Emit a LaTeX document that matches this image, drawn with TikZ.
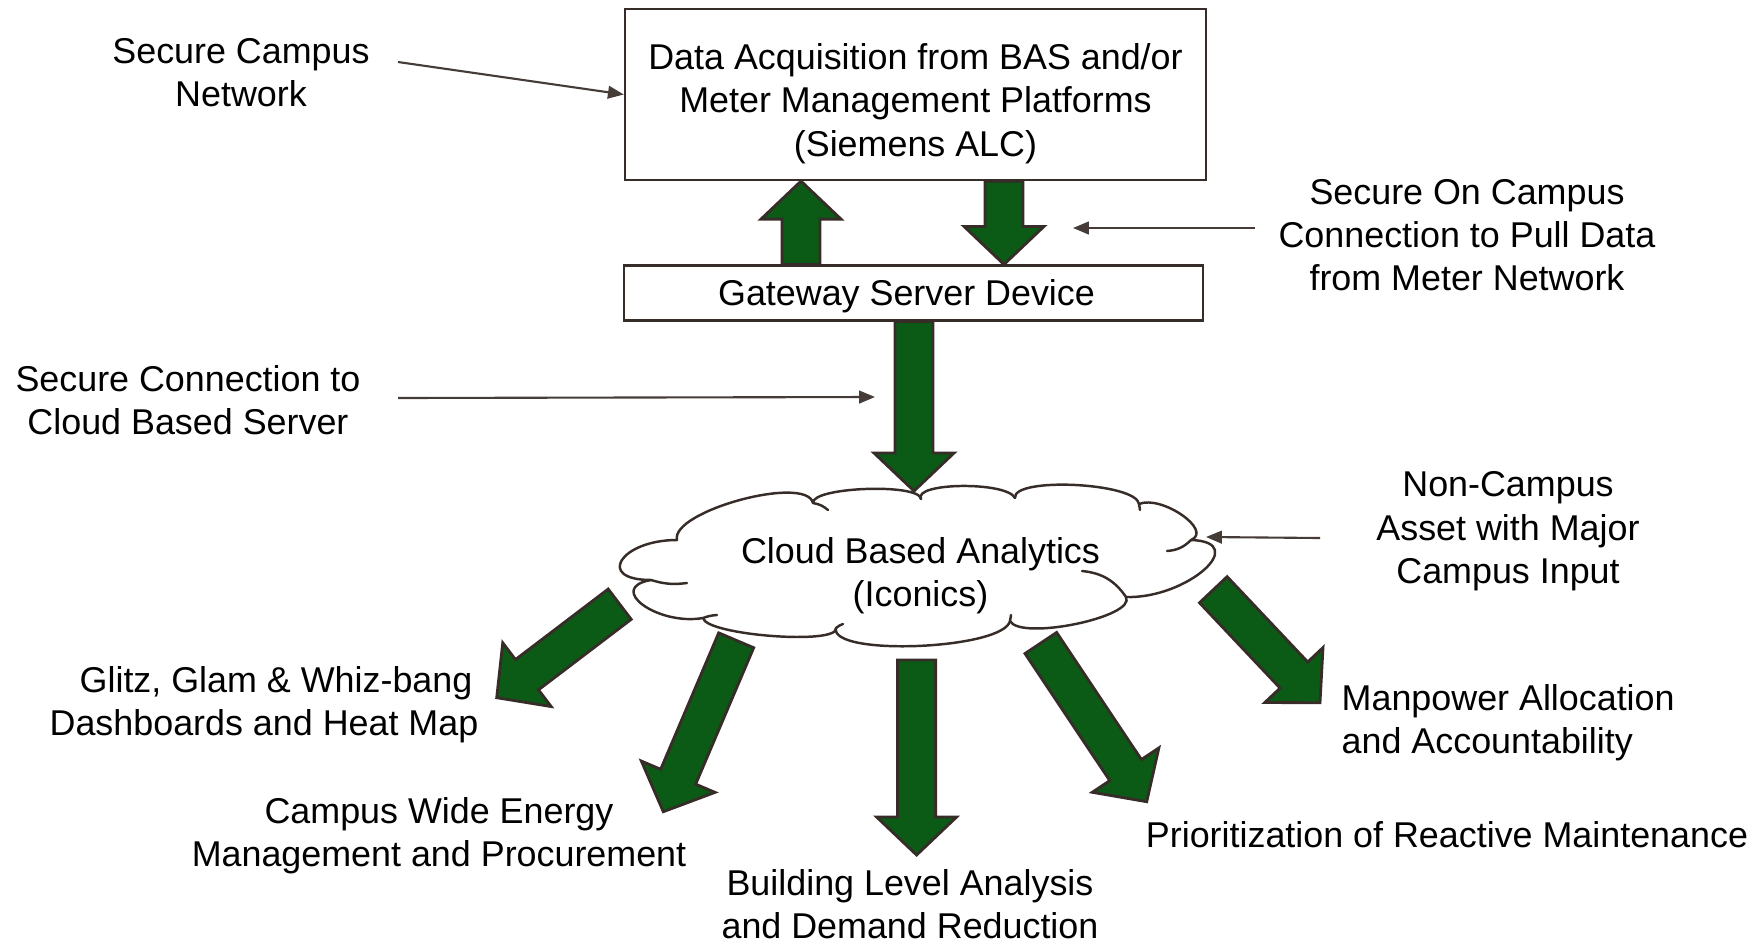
\documentclass[tikz,border=0pt]{standalone}
\usepackage{fontspec}
\setmainfont{Liberation Sans}
\usetikzlibrary{arrows.meta, positioning, calc}

\definecolor{flowgreen}{RGB}{11,90,22}
\definecolor{flowedge}{RGB}{55,45,40}
\definecolor{lineedge}{RGB}{70,60,55}

% block arrow sizes (half shaft, half head, head length)
\newcommand{\shaftw}{0.19cm}
\newcommand{\headw}{0.40cm}
\newcommand{\headl}{0.38cm}

% fat green arrow from #1 (tail) to #2 (tip)
\newcommand{\blockarrow}[2]{%
  \coordinate (ba-head) at ($(#2)!\headl!(#1)$);
  \draw[flow] ($(#1)!\shaftw!90:(#2)$) -- ($(ba-head)!\shaftw!-90:(#1)$)
    -- ($(ba-head)!\headw!-90:(#1)$) -- (#2)
    -- ($(ba-head)!\headw!90:(#1)$) -- ($(ba-head)!\shaftw!90:(#1)$)
    -- ($(#1)!\shaftw!-90:(#2)$) -- cycle;}

\begin{document}
\begin{tikzpicture}[
        x=0.01cm, y=-0.01cm,
        font=\fontsize{10.2}{12.3}\selectfont,
        box/.style={draw=flowedge, line width=0.6pt, inner sep=0pt},
        note/.style={align=center, inner sep=0pt},
        pointer/.style={draw=lineedge, line width=0.6pt, -{Triangle[length=4.5pt, width=3.6pt]}},
        flow/.style={fill=flowgreen, draw=flowedge, line width=0.8pt, line join=miter},
        puffline/.style={draw=flowedge, line width=0.7pt, line cap=round},
    ]
    \useasboundingbox (0,0) rectangle (1757,942);

    % --- boxes ---
    \node[box, minimum width=5.81cm, minimum height=1.71cm] (daq) at (915.5,94.5) {};
    \node[note] (daq-text) at ($(daq.center)+(0,9)$)
        {Data Acquisition from BAS and/or\\Meter Management Platforms\\(Siemens ALC)};
    \node[box, minimum width=5.79cm, minimum height=0.55cm] (gateway) at (913.5,293) {};
    \node[note] (gateway-text) at ($(gateway.center)+(-7,3.4)$) {Gateway Server Device};

    % --- cloud: one bump per junction pair, J = junction, P = bump middle ---
    \coordinate (J1) at (651,580);  \coordinate (P1) at (622,560);
    \coordinate (J2) at (677,540);  \coordinate (P2) at (740,500);
    \coordinate (J3) at (813,503);  \coordinate (P3) at (866,489);
    \coordinate (J4) at (921,499);  \coordinate (P4) at (962,486);
    \coordinate (J5) at (1015,498); \coordinate (P5) at (1075,485);
    \coordinate (J6) at (1139,504); \coordinate (P6) at (1182,515);
    \coordinate (J7) at (1191,540); \coordinate (P7) at (1204,570);
    \coordinate (J8) at (1126,597); \coordinate (P8) at (1076,624);
    \coordinate (J9) at (1010,621); \coordinate (P9) at (918,646);
    \coordinate (J10) at (836,628); \coordinate (P10) at (772,636);
    \coordinate (J11) at (703,618); \coordinate (P11) at (643,605);
    \foreach \a/\p/\b in {J1/P1/J2, J2/P2/J3, J3/P3/J4, J4/P4/J5, J5/P5/J6, J6/P6/J7,
                          J7/P7/J8, J8/P8/J9, J9/P9/J10, J10/P10/J11, J11/P11/J1}
        \draw[puffline] (\a) .. controls ($0.3333*(\a)+1.3333*(\p)-0.6667*(\b)$)
            and ($1.3333*(\p)+0.3333*(\b)-0.6667*(\a)$) .. (\b);
    % inner curls
    \draw[puffline] (J1) to[bend right=12] (687,583);
    \draw[puffline] (J3) to[bend left=15] (828,510);
    \draw[puffline] (J6) -- (1140,510);
    \draw[puffline] (J7) to[bend left=20] (1167,551);
    \draw[puffline] (1082,571) to[bend left=25] (J8);
    \draw[puffline] (J9) -- (1011,615);
    \draw[puffline] (J10) to[bend left=10] (843,624);
    \draw[puffline] (J11) to[bend left=8] (717,615);
    \coordinate (cloud-top) at (914,491);
    \node[note] (analytics) at (920.5,576) {Cloud Based Analytics\\(Iconics)};

    % --- side notes ---
    \node[note] (campusnet) at (241,73) {Secure Campus\\Network};
    \node[note] (cloudconn) at (188,400) {Secure Connection to\\Cloud Based Server};
    \node[note] (oncampus) at (1467,235) {Secure On Campus\\Connection to Pull Data\\from Meter Network};
    \node[note] (noncampus) at (1508,531.4) {Non-Campus\\Asset with Major\\Campus Input};

    % --- outputs ---
    \node[note] (dashboards) at (264,704.4) {\hspace*{0.24cm}Glitz, Glam \& Whiz-bang\\Dashboards and Heat Map};
    \node[note] (energymgmt) at (439,835.4) {Campus Wide Energy\\Management and Procurement};
    \node[note] (buildlevel) at (910,904) {Building Level Analysis\\and Demand Reduction};
    \node[note] (reactive) at (1447,835) {Prioritization of Reactive Maintenance};
    \node[note, align=left, anchor=west] (manpower) at (1341,722.4) {Manpower Allocation\\and Accountability};

    % link columns
    \coordinate (uplink) at (801,0);
    \coordinate (downlink) at (1004,0);
    \coordinate (cloudlink) at (914,0);

    % gateway <-> data acquisition
    \blockarrow{gateway.north -| uplink}{daq.south -| uplink}
    \blockarrow{daq.south -| downlink}{gateway.north -| downlink}
    % gateway -> cloud
    \blockarrow{gateway.south -| cloudlink}{cloud-top}

    % cloud -> outputs
    \coordinate (dash-tail) at (619.7,604.2);   \coordinate (dash-tip) at (496.7,697.7);
    \coordinate (energy-tail) at (736.2,640.3); \coordinate (energy-tip) at (663.3,811.7);
    \coordinate (build-tail) at (916.6,660);    \coordinate (build-tip) at (916.6,855);
    \coordinate (react-tail) at (1040.8,643);   \coordinate (react-tip) at (1146.7,801.7);
    \coordinate (man-tail) at (1213.3,589.7);   \coordinate (man-tip) at (1320,702.7);
    \blockarrow{dash-tail}{dash-tip}
    \blockarrow{energy-tail}{energy-tip}
    \blockarrow{build-tail}{build-tip}
    \blockarrow{react-tail}{react-tip}
    \blockarrow{man-tail}{man-tip}

    % thin pointers from the notes
    \coordinate (campusnet-from) at (398,62);
    \coordinate (cloudconn-from) at (398,398);   \coordinate (cloudconn-to) at (875,397);
    \coordinate (oncampus-from) at (1255,228);   \coordinate (oncampus-to) at (1073,228);
    \coordinate (noncampus-from) at (1320,538);  \coordinate (noncampus-to) at (1206,537);
    \draw[pointer] (campusnet-from) -- (daq.west);
    \draw[pointer] (cloudconn-from) -- (cloudconn-to);
    \draw[pointer] (oncampus-from) -- (oncampus-to);
    \draw[pointer] (noncampus-from) -- (noncampus-to);
\end{tikzpicture}
\end{document}
